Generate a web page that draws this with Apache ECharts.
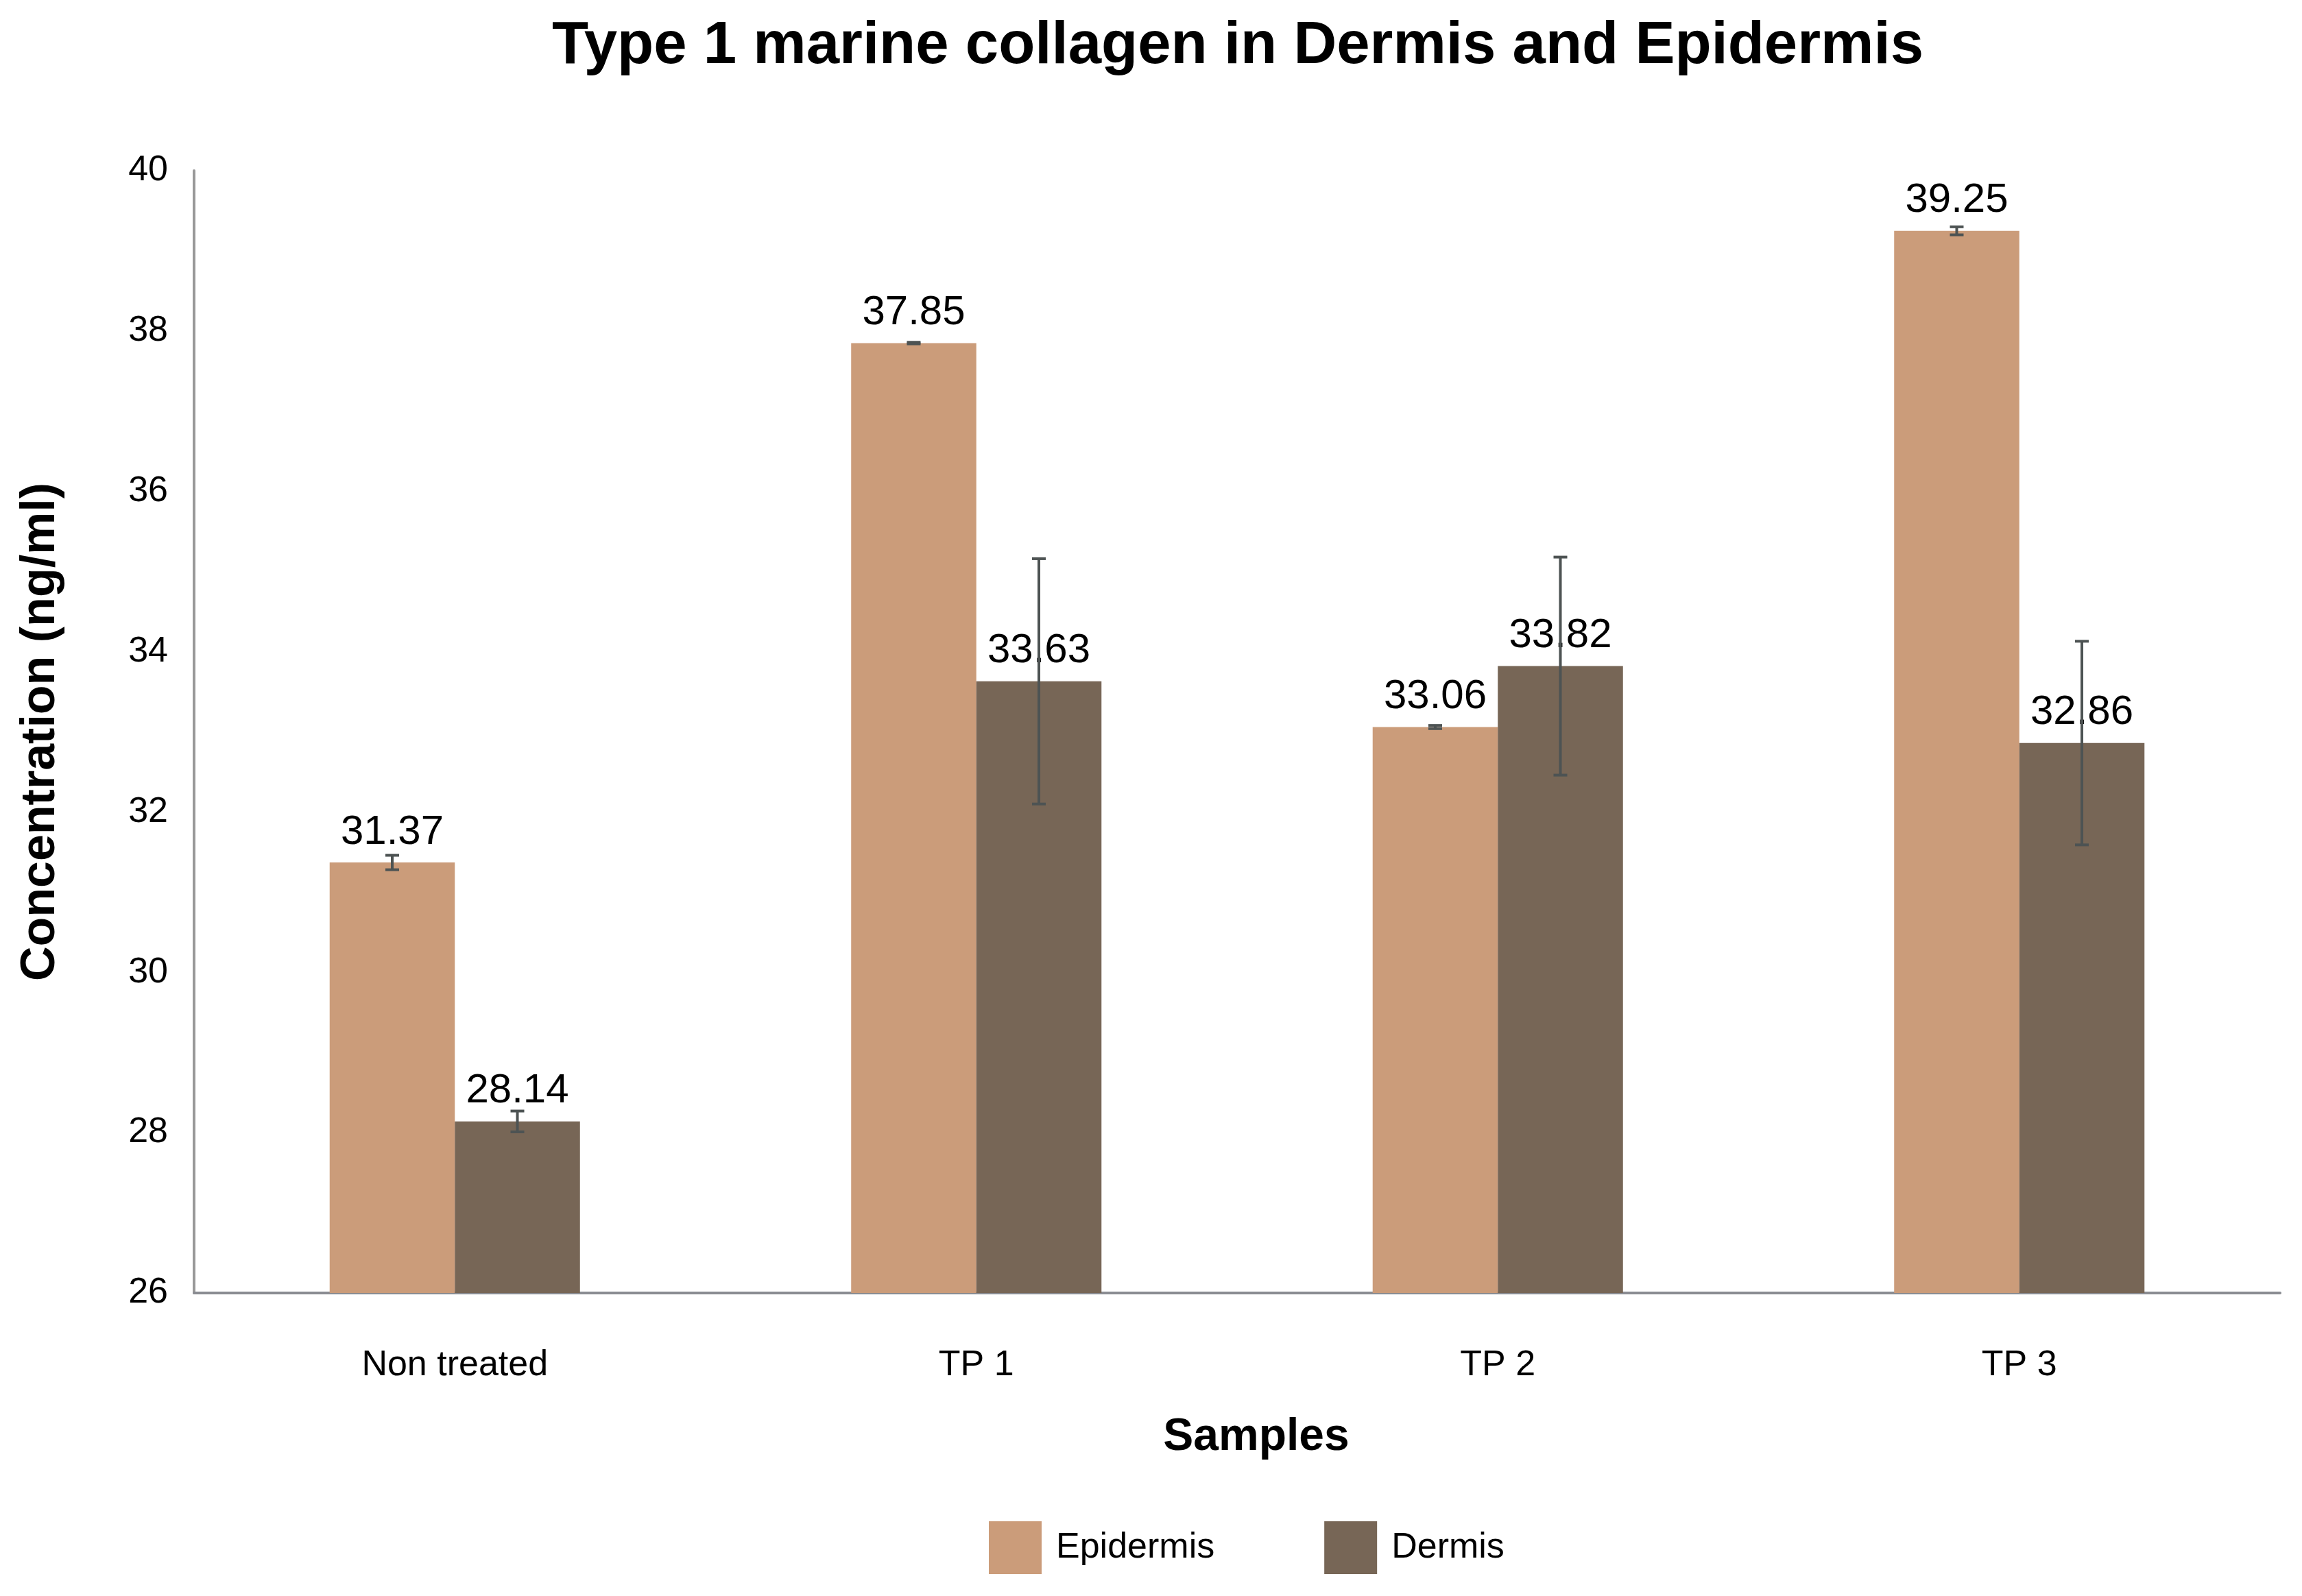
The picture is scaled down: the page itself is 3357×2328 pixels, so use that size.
<!DOCTYPE html>
<html>
<head>
<meta charset="utf-8">
<script src="https://cdn.jsdelivr.net/npm/echarts@6/dist/echarts.min.js"></script>
<style>
html,body{margin:0;padding:0;background:#fff;}
#chart{width:3357px;height:2328px;}
</style>
</head>
<body>
<div id="chart"></div>
<script>
var categories = ['Non treated', 'TP 1', 'TP 2', 'TP 3'];
var epidermis = [31.37, 37.85, 33.06, 39.25];
var dermis = [28.14, 33.63, 33.82, 32.86];
var epidermisErr = [0.09, 0.01, 0.02, 0.05];
var dermisErr = [0.13, 1.53, 1.36, 1.27];
var yTicks = [26, 28, 30, 32, 34, 36, 38, 40];

var FONT = "'Liberation Sans', Arial, Helvetica, sans-serif";
var GAP = 0.52;

var errData = [];
epidermis.forEach(function (v, i) { errData.push([i, v, epidermisErr[i], 0]); });
dermis.forEach(function (v, i) { errData.push([i, v, dermisErr[i], 1]); });

var chart = echarts.init(document.getElementById('chart'));
chart.setOption({
  backgroundColor: '#ffffff',
  animation: false,
  title: {
    text: 'Type 1 marine collagen in Dermis and Epidermis',
    left: 800,
    top: 20,
    textStyle: { fontFamily: FONT, fontSize: 87, fontWeight: 'bold', color: '#000' }
  },
  legend: {
    data: ['Epidermis', 'Dermis'],
    left: 1437,
    top: 2214,
    icon: 'rect',
    itemWidth: 77,
    itemHeight: 77,
    itemGap: 160,
    textStyle: { fontFamily: FONT, fontSize: 52, color: '#000', padding: [0, 0, 0, 16] }
  },
  grid: { left: 283, right: 32, top: 249, bottom: 442, containLabel: false },
  xAxis: {
    type: 'category',
    data: categories,
    name: 'Samples',
    nameLocation: 'middle',
    nameGap: 178,
    nameTextStyle: { fontFamily: FONT, fontSize: 66, fontWeight: 'bold', color: '#000', padding: [0, 0, 0, 56] },
    axisLine: { lineStyle: { color: '#8a8c92', width: 4 } },
    axisTick: { show: false },
    axisLabel: { fontFamily: FONT, fontSize: 52, color: '#000', margin: 80 }
  },
  yAxis: {
    type: 'value',
    min: yTicks[0],
    max: yTicks[yTicks.length - 1],
    interval: 2,
    name: 'Concentration (ng/ml)',
    nameLocation: 'middle',
    nameGap: 188,
    nameTextStyle: { fontFamily: FONT, fontSize: 70, fontWeight: 'bold', color: '#000' },
    axisLine: { show: true, lineStyle: { color: '#999999', width: 4 } },
    axisTick: { show: false },
    splitLine: { show: false },
    axisLabel: { fontFamily: FONT, fontSize: 52, color: '#000', margin: 38 }
  },
  series: [
    {
      name: 'Epidermis',
      type: 'bar',
      data: epidermis,
      barGap: '0%',
      barCategoryGap: (GAP * 100) + '%',
      itemStyle: { color: '#CB9C7A' },
      label: {
        show: true, position: 'top', distance: 14,
        fontFamily: FONT, fontSize: 60, color: '#000',
        formatter: function (p) { return p.value.toFixed(2); }
      }
    },
    {
      name: 'Dermis',
      type: 'bar',
      data: dermis,
      barGap: '0%',
      barCategoryGap: (GAP * 100) + '%',
      itemStyle: { color: '#776656' },
      label: {
        show: true, position: 'top', distance: 14,
        fontFamily: FONT, fontSize: 60, color: '#000',
        formatter: function (p) { return p.value.toFixed(2); }
      }
    },
    {
      name: 'errors',
      type: 'custom',
      data: errData,
      encode: { x: 0, y: 1 },
      z: 10,
      silent: true,
      renderItem: function (params, api) {
        var ci = api.value(0), v = api.value(1), e = api.value(2), s = api.value(3);
        var band = api.size([1, 0])[0];
        var bw = band * (1 - GAP) / 2;
        var cx = api.coord([ci, v])[0] + (s === 0 ? -bw / 2 : bw / 2);
        var yT = api.coord([ci, v + e])[1];
        var yB = api.coord([ci, v - e])[1];
        var half = 10;
        var st = { stroke: '#4d5353', lineWidth: 4 };
        return {
          type: 'group',
          children: [
            { type: 'line', shape: { x1: cx, y1: yT, x2: cx, y2: yB }, style: st },
            { type: 'line', shape: { x1: cx - half, y1: yT, x2: cx + half, y2: yT }, style: st },
            { type: 'line', shape: { x1: cx - half, y1: yB, x2: cx + half, y2: yB }, style: st }
          ]
        };
      }
    }
  ]
});
</script>
</body>
</html>
